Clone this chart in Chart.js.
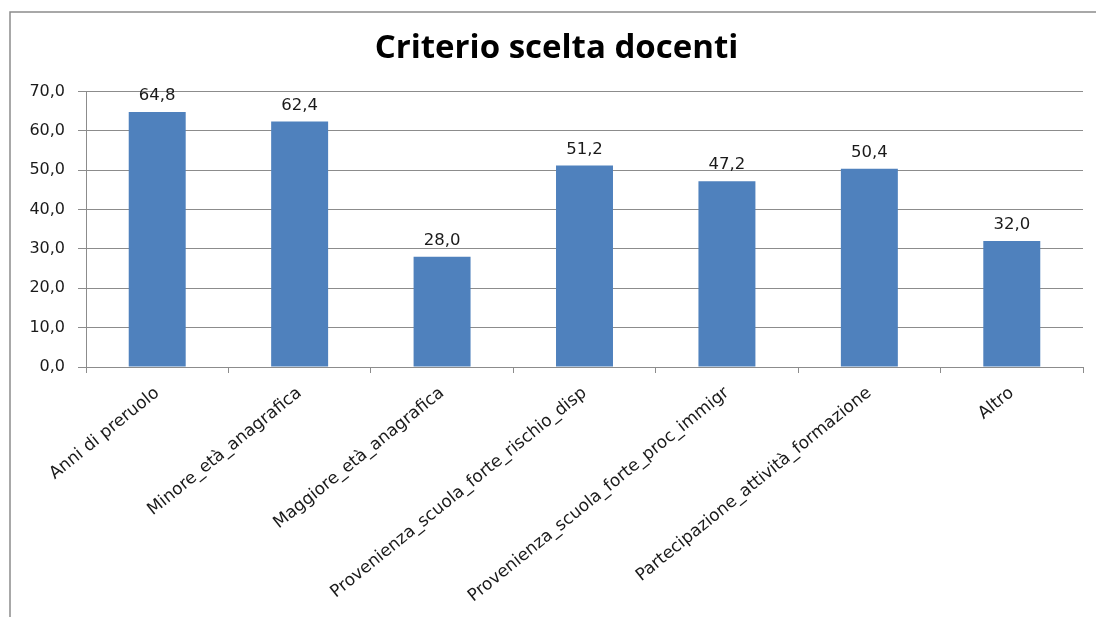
<!DOCTYPE html>
<html>
<head>
<meta charset="utf-8">
<script src="https://cdn.jsdelivr.net/npm/chart.js@4"></script>
<style>
  html, body { margin: 0; padding: 0; background: #fff; }
  #wrap { position: relative; width: 1096px; height: 617px; }
</style>
</head>
<body>
<div id="wrap">
  <canvas id="grafico" width="1096" height="617"></canvas>
</div>
<script>
// dati
const categorie = [
  'Anni di preruolo',
  'Minore_età_anagrafica',
  'Maggiore_età_anagrafica',
  'Provenienza_scuola_forte_rischio_disp',
  'Provenienza_scuola_forte_proc_immigr',
  'Partecipazione_attività_formazione',
  'Altro'
];
const valori = [64.8, 62.4, 28.0, 51.2, 47.2, 50.4, 32.0];
const tickY = [0, 10, 20, 30, 40, 50, 60, 70];
const titolo = 'Criterio scelta docenti';

const fmt = v => v.toFixed(1).replace('.', ',');

// cornice esterna (solo bordo sinistro e superiore visibili)
const cornice = {
  id: 'cornice',
  beforeDraw(chart) {
    const ctx = chart.ctx;
    ctx.save();
    ctx.strokeStyle = '#8c8c8c';
    ctx.lineWidth = 1.5;
    ctx.beginPath();
    ctx.moveTo(10, 617);
    ctx.lineTo(10, 12);
    ctx.lineTo(1096, 12);
    ctx.stroke();
    ctx.restore();
  }
};

// etichette valore sopra le barre
const etichette = {
  id: 'etichette',
  afterDatasetsDraw(chart) {
    const ctx = chart.ctx;
    const meta = chart.getDatasetMeta(0);
    ctx.save();
    ctx.font = '16.5px "DejaVu Sans"';
    ctx.fillStyle = '#1a1a1a';
    ctx.textAlign = 'center';
    ctx.textBaseline = 'alphabetic';
    meta.data.forEach((bar, i) => {
      ctx.fillText(fmt(valori[i]), bar.x, bar.y - 12);
    });
    ctx.restore();
  }
};

new Chart(document.getElementById('grafico'), {
  type: 'bar',
  data: {
    labels: categorie,
    datasets: [{
      data: valori,
      backgroundColor: '#4f81bd',
      borderWidth: 0,
      categoryPercentage: 1,
      barPercentage: 0.4
    }]
  },
  options: {
    responsive: false,
    animation: false,
    layout: { padding: { left: 30, right: 13, top: 0, bottom: 0 } },
    plugins: {
      legend: { display: false },
      tooltip: { enabled: false },
      title: {
        display: true,
        text: titolo,
        color: '#000',
        font: { family: 'Open Sans', size: 33, weight: 'bold', lineHeight: 1.2 },
        padding: { top: 29, bottom: 23 }
      }
    },
    scales: {
      y: {
        min: 0,
        max: 70,
        afterBuildTicks: s => { s.ticks = tickY.map(v => ({ value: v })); },
        afterFit: s => { s.width = 56; },
        ticks: {
          callback: v => fmt(v),
          color: '#1a1a1a',
          font: { family: 'DejaVu Sans', size: 16 },
          padding: 13
        },
        grid: { color: '#8c8c8c', lineWidth: 1, tickLength: 8 },
        border: { color: '#8c8c8c', width: 1 }
      },
      x: {
        afterFit: s => { s.height = 250; },
        ticks: {
          autoSkip: false,
          minRotation: 39,
          maxRotation: 39,
          color: '#1a1a1a',
          font: { family: 'DejaVu Sans', size: 17 },
          padding: 10
        },
        grid: { drawOnChartArea: false, color: '#8c8c8c', tickLength: 6, offset: true },
        border: { color: '#8c8c8c', width: 1 }
      }
    }
  },
  plugins: [cornice, etichette]
});
</script>
</body>
</html>
